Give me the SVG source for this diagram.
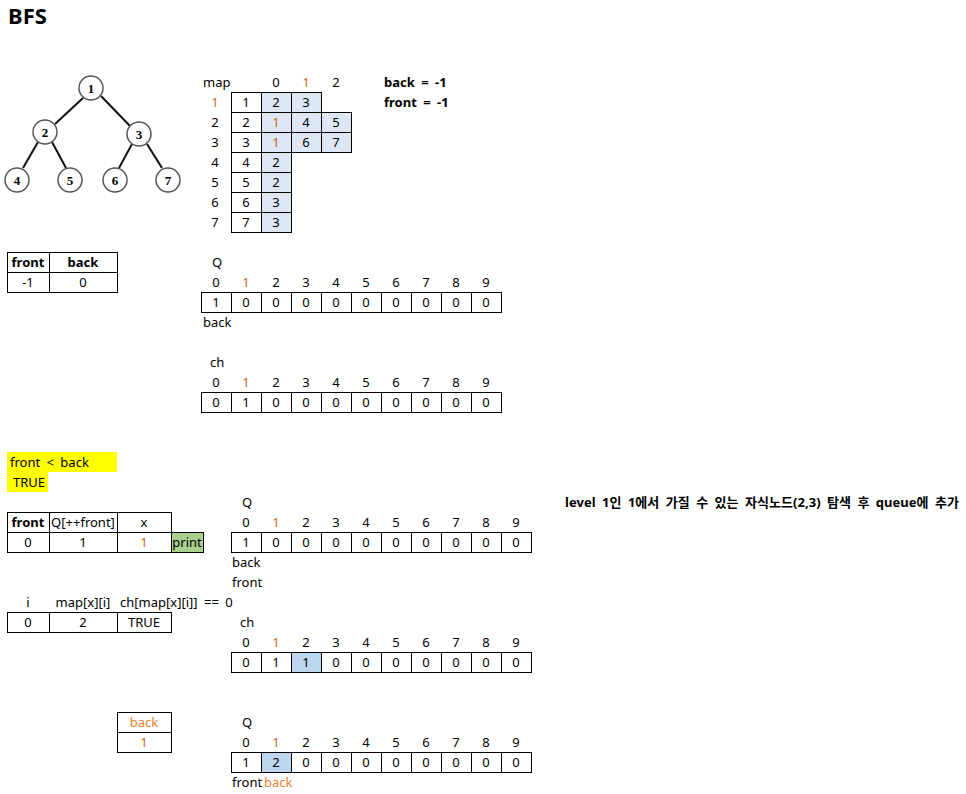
<svg xmlns="http://www.w3.org/2000/svg" width="966" height="794" viewBox="0 0 966 794">
<style>
text{font-family:"Noto Sans","Noto Sans CJK KR",sans-serif;font-size:13px;fill:#000;word-spacing:3px}
.c{text-anchor:middle}
.b{font-weight:bold}
.o{fill:#bf6a1e}
.oo{fill:#ed7d31}
.cell{fill:#fff;stroke:#000;stroke-width:1}
.blue{fill:#dde8f4;stroke:#000;stroke-width:1}
.hl{fill:#bdd7ee;stroke:#000;stroke-width:1}
.node circle{fill:#fff;stroke:#555;stroke-width:1.5}
.node text{font-family:"Liberation Serif",serif;font-weight:bold;font-size:13px;text-anchor:middle}
.edge{stroke:#111;stroke-width:2}
</style>
<rect width="966" height="794" fill="#fff"/>
<text x="8" y="24" class="b" style="font-size:22px">BFS</text>

<g id="connectors">
<line class="edge" x1="83" y1="98" x2="55" y2="124"/>
<line class="edge" x1="101" y1="96" x2="130" y2="126"/>
<line class="edge" x1="38" y1="142" x2="23" y2="168"/>
<line class="edge" x1="52" y1="142" x2="66" y2="168"/>
<line class="edge" x1="132" y1="144" x2="119" y2="168"/>
<line class="edge" x1="147" y1="144" x2="162" y2="168"/>
</g>
<g id="n1" class="node"><circle cx="91" cy="88" r="12"/><text x="91" y="93">1</text></g>
<g id="n2" class="node"><circle cx="45" cy="132" r="12"/><text x="45" y="137">2</text></g>
<g id="n3" class="node"><circle cx="139" cy="134" r="12"/><text x="139" y="139">3</text></g>
<g id="n4" class="node"><circle cx="17" cy="180" r="12"/><text x="17" y="185">4</text></g>
<g id="n5" class="node"><circle cx="70" cy="180" r="12"/><text x="70" y="185">5</text></g>
<g id="n6" class="node"><circle cx="115" cy="180" r="12"/><text x="115" y="185">6</text></g>
<g id="n7" class="node"><circle cx="168" cy="180" r="12"/><text x="168" y="185">7</text></g>

<g id="map">
<text x="203" y="87">map</text>
<text x="276" y="87" class="c">0</text><text x="306" y="87" class="c o">1</text><text x="336" y="87" class="c">2</text>
<g>
<rect class="cell" x="231.5" y="92.5" width="30" height="20"/><rect class="blue" x="261.5" y="92.5" width="30" height="20"/><rect class="blue" x="291.5" y="92.5" width="30" height="20"/>
<rect class="cell" x="231.5" y="112.5" width="30" height="20"/><rect class="blue" x="261.5" y="112.5" width="30" height="20"/><rect class="blue" x="291.5" y="112.5" width="30" height="20"/><rect class="blue" x="321.5" y="112.5" width="30" height="20"/>
<rect class="cell" x="231.5" y="132.5" width="30" height="20"/><rect class="blue" x="261.5" y="132.5" width="30" height="20"/><rect class="blue" x="291.5" y="132.5" width="30" height="20"/><rect class="blue" x="321.5" y="132.5" width="30" height="20"/>
<rect class="cell" x="231.5" y="152.5" width="30" height="20"/><rect class="blue" x="261.5" y="152.5" width="30" height="20"/>
<rect class="cell" x="231.5" y="172.5" width="30" height="20"/><rect class="blue" x="261.5" y="172.5" width="30" height="20"/>
<rect class="cell" x="231.5" y="192.5" width="30" height="20"/><rect class="blue" x="261.5" y="192.5" width="30" height="20"/>
<rect class="cell" x="231.5" y="212.5" width="30" height="20"/><rect class="blue" x="261.5" y="212.5" width="30" height="20"/>
</g>
<text x="215" y="107" class="c o">1</text><text x="246" y="107" class="c">1</text><text x="276" y="107" class="c">2</text><text x="306" y="107" class="c">3</text>
<text x="215" y="127" class="c">2</text><text x="246" y="127" class="c">2</text><text x="276" y="127" class="c o">1</text><text x="306" y="127" class="c">4</text><text x="336" y="127" class="c">5</text>
<text x="215" y="147" class="c">3</text><text x="246" y="147" class="c">3</text><text x="276" y="147" class="c o">1</text><text x="306" y="147" class="c">6</text><text x="336" y="147" class="c">7</text>
<text x="215" y="167" class="c">4</text><text x="246" y="167" class="c">4</text><text x="276" y="167" class="c">2</text>
<text x="215" y="187" class="c">5</text><text x="246" y="187" class="c">5</text><text x="276" y="187" class="c">2</text>
<text x="215" y="207" class="c">6</text><text x="246" y="207" class="c">6</text><text x="276" y="207" class="c">3</text>
<text x="215" y="227" class="c">7</text><text x="246" y="227" class="c">7</text><text x="276" y="227" class="c">3</text>
</g>
<text x="384" y="87" class="b">back = -1</text>
<text x="384" y="107" class="b">front = -1</text>

<g id="fb-table">
<rect class="cell" x="7.5" y="252.5" width="42" height="20"/><rect class="cell" x="49.5" y="252.5" width="68" height="20"/>
<rect class="cell" x="7.5" y="272.5" width="42" height="20"/><rect class="cell" x="49.5" y="272.5" width="68" height="20"/>
<text x="28" y="267" class="c b">front</text><text x="83" y="267" class="c b">back</text>
<text x="28" y="287" class="c">-1</text><text x="83" y="287" class="c">0</text>
</g>

<g id="q1">
<text x="212" y="267">Q</text>
<g>
<text x="216" y="287" class="c">0</text><text x="246" y="287" class="c o">1</text><text x="276" y="287" class="c">2</text><text x="306" y="287" class="c">3</text><text x="336" y="287" class="c">4</text><text x="366" y="287" class="c">5</text><text x="396" y="287" class="c">6</text><text x="426" y="287" class="c">7</text><text x="456" y="287" class="c">8</text><text x="486" y="287" class="c">9</text>
</g>
<rect class="cell" x="201.5" y="292.5" width="300" height="20"/>
<path d="M231.5 292.5V312.5M261.5 292.5V312.5M291.5 292.5V312.5M321.5 292.5V312.5M351.5 292.5V312.5M381.5 292.5V312.5M411.5 292.5V312.5M441.5 292.5V312.5M471.5 292.5V312.5" stroke="#000"/>
<text x="216" y="307" class="c">1</text><text x="246" y="307" class="c">0</text><text x="276" y="307" class="c">0</text><text x="306" y="307" class="c">0</text><text x="336" y="307" class="c">0</text><text x="366" y="307" class="c">0</text><text x="396" y="307" class="c">0</text><text x="426" y="307" class="c">0</text><text x="456" y="307" class="c">0</text><text x="486" y="307" class="c">0</text>
<text x="203" y="327">back</text>
</g>

<g id="ch1">
<text x="210" y="367">ch</text>
<text x="216" y="387" class="c">0</text><text x="246" y="387" class="c o">1</text><text x="276" y="387" class="c">2</text><text x="306" y="387" class="c">3</text><text x="336" y="387" class="c">4</text><text x="366" y="387" class="c">5</text><text x="396" y="387" class="c">6</text><text x="426" y="387" class="c">7</text><text x="456" y="387" class="c">8</text><text x="486" y="387" class="c">9</text>
<rect class="cell" x="201.5" y="392.5" width="300" height="20"/>
<path d="M231.5 392.5V412.5M261.5 392.5V412.5M291.5 392.5V412.5M321.5 392.5V412.5M351.5 392.5V412.5M381.5 392.5V412.5M411.5 392.5V412.5M441.5 392.5V412.5M471.5 392.5V412.5" stroke="#000"/>
<text x="216" y="407" class="c">0</text><text x="246" y="407" class="c">1</text><text x="276" y="407" class="c">0</text><text x="306" y="407" class="c">0</text><text x="336" y="407" class="c">0</text><text x="366" y="407" class="c">0</text><text x="396" y="407" class="c">0</text><text x="426" y="407" class="c">0</text><text x="456" y="407" class="c">0</text><text x="486" y="407" class="c">0</text>
</g>

<g id="cond">
<rect x="7" y="452" width="110" height="20" fill="#ffff00"/>
<rect x="7" y="472" width="41" height="20" fill="#ffff00"/>
<text x="10" y="467">front &lt; back</text>
<text x="13" y="487">TRUE</text>
</g>

<g id="pop-table">
<rect class="cell" x="7.5" y="512.5" width="42" height="20"/><rect class="cell" x="49.5" y="512.5" width="68" height="20"/><rect class="cell" x="117.5" y="512.5" width="54" height="20"/>
<rect class="cell" x="7.5" y="532.5" width="42" height="20"/><rect class="cell" x="49.5" y="532.5" width="68" height="20"/><rect class="cell" x="117.5" y="532.5" width="54" height="20"/>
<rect x="171.5" y="532.5" width="32" height="20" fill="#a9d08e" stroke="#000"/>
<text x="28" y="527" class="c b">front</text><text x="83" y="527" class="c">Q[++front]</text><text x="144" y="527" class="c">x</text>
<text x="28" y="547" class="c">0</text><text x="83" y="547" class="c">1</text><text x="144" y="547" class="c o">1</text>
<text x="187" y="547" class="c">print</text>
</g>

<g id="q2">
<text x="242" y="507">Q</text>
<text x="246" y="527" class="c">0</text><text x="276" y="527" class="c o">1</text><text x="306" y="527" class="c">2</text><text x="336" y="527" class="c">3</text><text x="366" y="527" class="c">4</text><text x="396" y="527" class="c">5</text><text x="426" y="527" class="c">6</text><text x="456" y="527" class="c">7</text><text x="486" y="527" class="c">8</text><text x="516" y="527" class="c">9</text>
<rect class="cell" x="231.5" y="532.5" width="300" height="20"/>
<path d="M261.5 532.5V552.5M291.5 532.5V552.5M321.5 532.5V552.5M351.5 532.5V552.5M381.5 532.5V552.5M411.5 532.5V552.5M441.5 532.5V552.5M471.5 532.5V552.5M501.5 532.5V552.5" stroke="#000"/>
<text x="246" y="547" class="c">1</text><text x="276" y="547" class="c">0</text><text x="306" y="547" class="c">0</text><text x="336" y="547" class="c">0</text><text x="366" y="547" class="c">0</text><text x="396" y="547" class="c">0</text><text x="426" y="547" class="c">0</text><text x="456" y="547" class="c">0</text><text x="486" y="547" class="c">0</text><text x="516" y="547" class="c">0</text>
<text x="232" y="567">back</text>
<text x="232" y="587">front</text>
</g>

<text x="565" y="507" class="b" textLength="394" lengthAdjust="spacing">level 1인 1에서 가질 수 있는 자식노드(2,3) 탐색 후 queue에 추가</text>

<g id="loop-table">
<text x="28" y="607" class="c">i</text><text x="83" y="607" class="c">map[x][i]</text><text x="120" y="607">ch[map[x][i]] == 0</text>
<rect class="cell" x="7.5" y="612.5" width="42" height="20"/><rect class="cell" x="49.5" y="612.5" width="68" height="20"/><rect class="cell" x="117.5" y="612.5" width="54" height="20"/>
<text x="28" y="627" class="c">0</text><text x="83" y="627" class="c">2</text><text x="144" y="627" class="c">TRUE</text>
</g>

<g id="ch2">
<text x="240" y="627">ch</text>
<text x="246" y="647" class="c">0</text><text x="276" y="647" class="c o">1</text><text x="306" y="647" class="c">2</text><text x="336" y="647" class="c">3</text><text x="366" y="647" class="c">4</text><text x="396" y="647" class="c">5</text><text x="426" y="647" class="c">6</text><text x="456" y="647" class="c">7</text><text x="486" y="647" class="c">8</text><text x="516" y="647" class="c">9</text>
<rect class="cell" x="231.5" y="652.5" width="300" height="20"/>
<rect class="hl" x="291.5" y="652.5" width="30" height="20"/>
<path d="M261.5 652.5V672.5M291.5 652.5V672.5M321.5 652.5V672.5M351.5 652.5V672.5M381.5 652.5V672.5M411.5 652.5V672.5M441.5 652.5V672.5M471.5 652.5V672.5M501.5 652.5V672.5" stroke="#000"/>
<text x="246" y="667" class="c">0</text><text x="276" y="667" class="c">1</text><text x="306" y="667" class="c">1</text><text x="336" y="667" class="c">0</text><text x="366" y="667" class="c">0</text><text x="396" y="667" class="c">0</text><text x="426" y="667" class="c">0</text><text x="456" y="667" class="c">0</text><text x="486" y="667" class="c">0</text><text x="516" y="667" class="c">0</text>
</g>

<g id="back-table">
<rect class="cell" x="117.5" y="712.5" width="54" height="20"/><rect class="cell" x="117.5" y="732.5" width="54" height="20"/>
<text x="144" y="727" class="c oo">back</text><text x="144" y="747" class="c o">1</text>
</g>

<g id="q3">
<text x="242" y="727">Q</text>
<text x="246" y="747" class="c">0</text><text x="276" y="747" class="c o">1</text><text x="306" y="747" class="c">2</text><text x="336" y="747" class="c">3</text><text x="366" y="747" class="c">4</text><text x="396" y="747" class="c">5</text><text x="426" y="747" class="c">6</text><text x="456" y="747" class="c">7</text><text x="486" y="747" class="c">8</text><text x="516" y="747" class="c">9</text>
<rect class="cell" x="231.5" y="752.5" width="300" height="20"/>
<rect class="hl" x="261.5" y="752.5" width="30" height="20"/>
<path d="M261.5 752.5V772.5M291.5 752.5V772.5M321.5 752.5V772.5M351.5 752.5V772.5M381.5 752.5V772.5M411.5 752.5V772.5M441.5 752.5V772.5M471.5 752.5V772.5M501.5 752.5V772.5" stroke="#000"/>
<text x="246" y="767" class="c">1</text><text x="276" y="767" class="c">2</text><text x="306" y="767" class="c">0</text><text x="336" y="767" class="c">0</text><text x="366" y="767" class="c">0</text><text x="396" y="767" class="c">0</text><text x="426" y="767" class="c">0</text><text x="456" y="767" class="c">0</text><text x="486" y="767" class="c">0</text><text x="516" y="767" class="c">0</text>
<text x="232" y="787">front</text><text x="264" y="787" class="oo">back</text>
</g>
</svg>
